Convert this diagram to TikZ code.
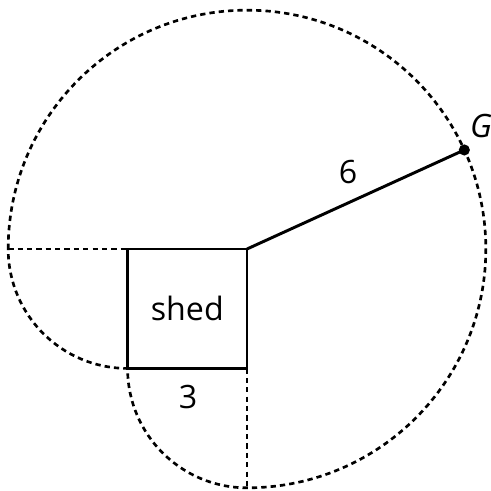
\documentclass[tikz,border=0pt]{standalone}
\usepackage{fontspec}
\setmainfont{Open Sans}
\usetikzlibrary{positioning,calc}

\begin{document}
\begin{tikzpicture}[
  boundary/.style={line width=1.9pt, dash pattern=on 3.8pt off 2.9pt},
  wall/.style={draw, line width=2.1pt, minimum size=3cm, inner sep=0pt, outer sep=0pt, font=\fontsize{23}{27}\selectfont},
  rope/.style={line width=2.1pt},
  lbl/.style={font=\fontsize{23}{27}\selectfont}
]
\useasboundingbox (-6.206,-6.08) rectangle (6.13,6.256);

\coordinate (post) at (0,0);
\node[wall, anchor=north east] (shed) at (post) {shed};
\coordinate (west) at (-6,0);
\coordinate (south) at (0,-6);
\coordinate (G) at (24.5:6);

% grazing boundary
\draw[boundary] (west) arc[start angle=180, end angle=-90, radius=6]
  arc[start angle=270, end angle=180, radius=3]
  arc[start angle=270, end angle=180, radius=3];
\draw[boundary] (west) -- (shed.north west);
\draw[boundary] (shed.south east) -- (south);

\draw[rope] (post) -- (G);
\fill (G) circle (0.14);

\node[lbl] (six) at (2.54,1.93) {6};
\node[lbl] (glbl) at (5.88,3.09) {\textit{G}};
\node[lbl] (side) at (-1.48,-3.72) {3};

\end{tikzpicture}
\end{document}
